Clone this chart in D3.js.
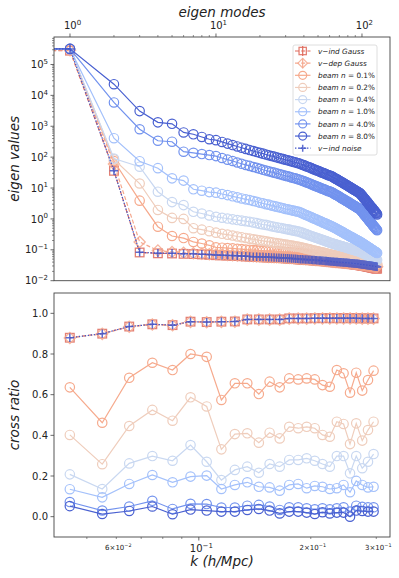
<!DOCTYPE html>
<html><head><meta charset="utf-8">
<script src="https://cdn.jsdelivr.net/npm/d3@7"></script>
<style>body{margin:0;background:#fff}svg{display:block;font-family:"DejaVu Sans",sans-serif}</style>
</head><body><svg id="c" width="399" height="578"></svg>
<script>
// ---------------- DATA ----------------
const modes = d3.range(128); // eigen mode index (0 .. 127)

const eigVindGauss = [2.9e5,2.8e5,36,0.082,0.077,0.076,0.074,0.073,0.071,0.069,
0.067,0.066,0.065,0.064,0.063,0.062,0.061,0.06,0.059,0.0585,
0.058,0.0575,0.057,0.0565,0.056,0.0555,0.055,0.0545,0.054,0.0535,
0.053,0.0525,0.052,0.0515,0.051,0.0505,0.05,0.049,0.0486,0.0483,
0.048,0.0476,0.0473,0.047,0.0466,0.0463,0.046,0.0456,0.0453,0.045,
0.0446,0.0443,0.044,0.0436,0.0433,0.043,0.0426,0.0423,0.042,0.0416,
0.0413,0.041,0.0406,0.0403,0.04,0.0398,0.0395,0.0393,0.039,0.0388,
0.0385,0.0383,0.038,0.0378,0.0375,0.0373,0.037,0.0368,0.0365,0.0363,
0.036,0.0358,0.0355,0.0353,0.035,0.0348,0.0345,0.0343,0.034,0.0338,
0.0335,0.0333,0.033,0.0328,0.0325,0.0323,0.032,0.0318,0.0315,0.0313,
0.031,0.0308,0.0305,0.0303,0.03,0.0298,0.0295,0.0293,0.029,0.0288,
0.0285,0.0283,0.028,0.0278,0.0275,0.0273,0.027,0.0268,0.0265,0.0263,
0.026,0.0258,0.0256,0.0254,0.0252,0.025,0.0248,0.0246];

const eigVdepGauss = [3.0e5,2.9e5,60,0.18,0.095,0.085,0.08,0.077,0.074,0.072,
0.07,0.069,0.068,0.067,0.066,0.065,0.064,0.063,0.062,0.061,
0.0605,0.06,0.0595,0.059,0.0585,0.058,0.0575,0.057,0.0565,0.056,
0.0555,0.055,0.0545,0.054,0.0535,0.053,0.0525,0.052,0.0515,0.051,
0.0505,0.05,0.0496,0.0492,0.0488,0.0484,0.048,0.0476,0.0472,0.0468,
0.0464,0.046,0.0456,0.0452,0.0448,0.0444,0.044,0.0436,0.0432,0.0428,
0.0424,0.042,0.0417,0.0414,0.0411,0.0408,0.0405,0.0402,0.04,0.0398,
0.0396,0.0394,0.0392,0.039,0.0388,0.0386,0.0384,0.0382,0.038,0.0378,
0.0376,0.0374,0.0372,0.037,0.0368,0.0366,0.0364,0.0362,0.036,0.0358,
0.0356,0.0354,0.0352,0.035,0.0348,0.0346,0.0344,0.0342,0.034,0.0338,
0.0336,0.0334,0.0332,0.033,0.0328,0.0326,0.0324,0.0322,0.032,0.0318,
0.0316,0.0314,0.0312,0.031,0.0308,0.0306,0.0304,0.0302,0.03,0.0298,
0.0296,0.0294,0.0292,0.029,0.0288,0.0286,0.0284,0.0282];

const eigBeam01 = [3.3e5,3.2e5,75,3.9,0.56,0.28,0.24,0.18,0.16,0.14,
0.12,0.117,0.114,0.111,0.108,0.105,0.102,0.1,0.098,0.097,
0.095,0.094,0.093,0.092,0.091,0.09,0.089,0.088,0.087,0.086,
0.085,0.084,0.083,0.082,0.081,0.08,0.079,0.078,0.077,0.076,
0.075,0.074,0.073,0.072,0.071,0.07,0.069,0.068,0.067,0.066,
0.065,0.064,0.063,0.062,0.061,0.06,0.059,0.058,0.057,0.056,
0.0555,0.055,0.054,0.053,0.0526,0.0522,0.0518,0.0514,0.051,0.0506,
0.0502,0.0498,0.0494,0.049,0.0486,0.0483,0.048,0.0476,0.0472,0.0468,
0.0465,0.0461,0.0457,0.0453,0.045,0.0446,0.0442,0.0438,0.0434,0.043,
0.0426,0.0422,0.0418,0.0414,0.041,0.0406,0.0403,0.04,0.0397,0.0394,
0.0392,0.0389,0.0386,0.0384,0.0381,0.0378,0.0376,0.0373,0.037,0.0368,
0.0365,0.0362,0.036,0.0357,0.0354,0.0352,0.0349,0.0346,0.0344,0.0341,
0.0338,0.0336,0.0333,0.033,0.0328,0.0325,0.0322,0.032];

const eigBeam02 = [3.3e5,3.2e5,85,14,1.95,1.08,1.0,0.5,0.45,0.4,
0.36,0.33,0.31,0.29,0.27,0.256,0.242,0.23,0.22,0.211,
0.202,0.195,0.188,0.182,0.176,0.17,0.165,0.16,0.156,0.151,
0.147,0.144,0.14,0.137,0.134,0.131,0.128,0.125,0.121,0.118,
0.114,0.111,0.108,0.105,0.103,0.1,0.097,0.095,0.093,0.091,
0.089,0.086,0.085,0.083,0.081,0.08,0.078,0.076,0.075,0.073,
0.072,0.071,0.069,0.068,0.067,0.066,0.065,0.064,0.063,0.062,
0.0615,0.0607,0.06,0.059,0.058,0.0575,0.057,0.056,0.0555,0.0547,
0.054,0.0536,0.0528,0.0522,0.0516,0.0512,0.0506,0.0499,0.0494,0.0489,
0.0484,0.0479,0.0473,0.0469,0.0464,0.046,0.0455,0.045,0.0447,0.0443,
0.044,0.0437,0.0433,0.043,0.0427,0.0424,0.0421,0.0418,0.0415,0.0412,
0.0409,0.0406,0.0403,0.04,0.0397,0.0394,0.0391,0.0388,0.0385,0.0382,
0.0379,0.0376,0.0373,0.037,0.0367,0.0365,0.0362,0.036];

const eigBeam04 = [3.3e5,3.2e5,90,49,7.6,3.5,2.8,1.7,1.5,1.3,
1.17,1.09,1.03,0.97,0.92,0.88,0.84,0.81,0.77,0.73,
0.69,0.66,0.64,0.61,0.58,0.56,0.54,0.52,0.51,0.49,
0.47,0.46,0.45,0.43,0.42,0.41,0.4,0.39,0.37,0.36,
0.34,0.33,0.315,0.3,0.29,0.28,0.27,0.26,0.25,0.244,
0.235,0.227,0.22,0.214,0.207,0.2,0.195,0.189,0.184,0.178,
0.173,0.169,0.164,0.16,0.156,0.153,0.149,0.147,0.143,0.14,
0.138,0.135,0.132,0.13,0.127,0.125,0.123,0.121,0.118,0.116,
0.114,0.112,0.11,0.109,0.107,0.105,0.104,0.102,0.1,0.099,
0.097,0.095,0.094,0.093,0.091,0.09,0.089,0.087,0.085,0.083,
0.081,0.08,0.077,0.076,0.074,0.073,0.071,0.07,0.068,0.067,
0.065,0.064,0.063,0.061,0.06,0.059,0.058,0.057,0.055,0.054,
0.053,0.052,0.051,0.05,0.0495,0.0485,0.048,0.047];

const eigBeam1 = [3.3e5,3.2e5,410,74,44,20.6,17.4,9.1,8.2,7.4,
7.1,6.4,5.9,5.4,5.0,4.6,4.3,4.1,3.8,3.6,
3.35,3.2,3.0,2.9,2.7,2.6,2.5,2.4,2.3,2.2,
2.1,2.05,1.98,1.91,1.85,1.79,1.74,1.7,1.6,1.52,
1.45,1.37,1.31,1.24,1.19,1.13,1.08,1.03,0.99,0.95,
0.91,0.87,0.84,0.81,0.77,0.74,0.72,0.69,0.67,0.64,
0.62,0.6,0.58,0.56,0.54,0.52,0.5,0.48,0.46,0.44,
0.43,0.41,0.4,0.38,0.37,0.36,0.34,0.33,0.32,0.31,
0.3,0.29,0.28,0.27,0.265,0.257,0.25,0.24,0.234,0.227,
0.22,0.214,0.208,0.203,0.197,0.191,0.187,0.18,0.177,0.171,
0.166,0.161,0.156,0.151,0.147,0.143,0.139,0.135,0.131,0.127,
0.124,0.12,0.117,0.114,0.11,0.107,0.105,0.102,0.099,0.096,
0.094,0.092,0.09,0.087,0.085,0.083,0.081,0.079];

const eigBeam4 = [3.3e5,3.2e5,5900,800,340,316,150,138,126,117,
108,94,83,75,67,61,56,52,48,45,
42,39,37,35,33,31.5,30,28.5,27.3,26,
24.8,24,23,22,21.2,20.6,19.7,19,18.2,17.3,
16.7,15.8,15.2,14.5,13.9,13.3,12.7,12.1,11.8,11.2,
10.9,10.6,10,9.7,9.4,9.1,8.8,8.5,8.2,7.9,
7.8,7.6,7.3,7.0,6.7,6.4,6.1,5.9,5.7,5.5,
5.2,5.0,4.8,4.6,4.5,4.3,4.1,4.0,3.8,3.7,
3.6,3.5,3.3,3.2,3.1,3.0,2.9,2.8,2.7,2.6,
2.55,2.45,2.4,2.3,2.25,2.2,2.1,2.05,1.95,1.8,
1.7,1.64,1.52,1.45,1.36,1.3,1.24,1.15,1.1,1.05,
1.0,0.94,0.88,0.85,0.79,0.76,0.73,0.7,0.66,0.61,
0.6,0.56,0.54,0.52,0.49,0.47,0.45,0.43];

const eigBeam8 = [3.3e5,3.2e5,2.3e4,3100,1340,1200,630,550,450,380,
355,311,275,246,222,202,185,170,158,147,
138,130,122,115,109,104,99,94,90,86,
82,79,76,73,70,68,65,63,60,57,
55,52,50,48,46,44,42,40,39,37,
36,35,33,32,31,30,29,28,27,26,
25.6,25,24,23,22,21,20,19.6,18.7,18,
17.3,16.6,16,15.3,14.8,14.2,13.6,13.2,12.7,12.2,
11.8,11.4,11,10.6,10.3,9.9,9.6,9.2,9.0,8.7,
8.4,8.1,7.9,7.7,7.4,7.2,7.0,6.8,6.4,6.0,
5.7,5.4,5.0,4.8,4.5,4.3,4.1,3.8,3.6,3.5,
3.3,3.1,2.9,2.8,2.6,2.5,2.4,2.3,2.2,2.0,
1.97,1.86,1.79,1.7,1.6,1.55,1.5,1.4];

const eigNoise = [3.3e5,3.2e5,36,0.083,0.078,0.077,0.075,0.074,0.072,0.07,
0.068,0.067,0.066,0.065,0.064,0.063,0.062,0.061,0.06,0.0595,
0.059,0.0585,0.058,0.0575,0.057,0.0565,0.056,0.0555,0.055,0.0545,
0.054,0.0535,0.053,0.0525,0.052,0.0515,0.051,0.05,0.0496,0.0493,
0.049,0.0486,0.0483,0.048,0.0476,0.0473,0.047,0.0466,0.0463,0.046,
0.0456,0.0453,0.045,0.0446,0.0443,0.044,0.0436,0.0433,0.043,0.0426,
0.0423,0.042,0.0416,0.0413,0.041,0.0408,0.0406,0.0404,0.0402,0.04,
0.0398,0.0396,0.0394,0.0392,0.039,0.0388,0.0386,0.0384,0.0382,0.038,
0.0378,0.0376,0.0374,0.0372,0.037,0.0368,0.0366,0.0364,0.0362,0.036,
0.0358,0.0356,0.0354,0.0352,0.035,0.0348,0.0346,0.0344,0.034,0.0338,
0.0336,0.0334,0.0332,0.033,0.0328,0.0326,0.0324,0.0322,0.032,0.0318,
0.0316,0.0314,0.0312,0.031,0.0308,0.0306,0.0304,0.0302,0.03,0.0298,
0.0296,0.0294,0.0292,0.029,0.0288,0.0286,0.0284,0.0282];

const kBins = [0.045,0.055,0.065,0.075,0.085,0.095,0.105,0.115,0.125,0.135,0.145,0.155,0.165,
0.175,0.185,0.195,0.205,0.215,0.225,0.235,0.245,0.255,0.265,0.275,0.285,0.295];

const crossVindGauss = [0.88,0.90,0.935,0.946,0.942,0.959,0.957,0.959,0.96,0.97,0.97,0.97,0.97,
0.975,0.975,0.975,0.976,0.976,0.976,0.976,0.976,0.976,0.976,0.975,0.975,0.975];
const crossVdepGauss = [0.879,0.899,0.934,0.945,0.941,0.958,0.956,0.958,0.959,0.969,0.969,0.969,0.969,
0.974,0.974,0.974,0.975,0.975,0.975,0.975,0.975,0.975,0.975,0.974,0.974,0.974];
const crossBeam01 = [0.636,0.462,0.683,0.757,0.721,0.80,0.786,0.574,0.656,0.656,0.603,0.664,0.636,
0.68,0.675,0.68,0.675,0.647,0.639,0.721,0.705,0.61,0.708,0.62,0.672,0.718];
const crossBeam02 = [0.402,0.258,0.446,0.525,0.472,0.587,0.542,0.331,0.406,0.41,0.364,0.413,0.385,
0.442,0.435,0.442,0.435,0.402,0.393,0.467,0.456,0.357,0.459,0.374,0.426,0.467];
const crossBeam04 = [0.208,0.136,0.262,0.298,0.275,0.352,0.27,0.18,0.23,0.246,0.216,0.259,0.246,
0.279,0.279,0.287,0.275,0.259,0.246,0.298,0.298,0.213,0.298,0.238,0.27,0.308];
const crossBeam1 = [0.135,0.095,0.161,0.205,0.169,0.197,0.202,0.136,0.156,0.169,0.147,0.144,0.128,
0.156,0.161,0.14,0.151,0.147,0.136,0.14,0.156,0.12,0.176,0.156,0.144,0.147];
const crossBeam4 = [0.072,0.03,0.05,0.078,0.038,0.063,0.062,0.045,0.045,0.054,0.058,0.05,0.033,
0.046,0.046,0.041,0.036,0.041,0.036,0.041,0.046,0.025,0.054,0.048,0.046,0.046];
const crossBeam8 = [0.052,0.013,0.028,0.05,0.012,0.035,0.03,0.025,0.025,0.033,0.038,0.03,0.016,
0.025,0.025,0.02,0.013,0.022,0.016,0.02,0.02,0.0,0.03,0.028,0.025,0.025];
const crossNoise = [0.88,0.90,0.935,0.946,0.942,0.959,0.957,0.959,0.96,0.97,0.97,0.97,0.97,
0.975,0.975,0.975,0.976,0.976,0.976,0.976,0.976,0.976,0.976,0.975,0.975,0.975];

const beamLabels = ["0.1%","0.2%","0.4%","1.0%","4.0%","8.0%"];
const eigYTicks = [1e-2,1e-1,1e0,1e1,1e2,1e3,1e4,1e5];
const modeTicks = [1,10,100];
const kMajorTicks = [0.1];
const kMinorLabelTicks = [0.06,0.2,0.3];
const crossTicks = [0,0.2,0.4,0.6,0.8,1.0];

// ---------------- STYLE / SERIES ----------------
const series = [
  {name:"vind", eig:eigVindGauss, cross:crossVindGauss, color:"#df6b5d", dash:"4,2.2", marker:"square"},
  {name:"vdep", eig:eigVdepGauss, cross:crossVdepGauss, color:"#f5a98f", dash:"4,2.2", marker:"diamond"},
  {name:"b0", eig:eigBeam01, cross:crossBeam01, color:"#f6aa8d", dash:null, marker:"circle"},
  {name:"b1", eig:eigBeam02, cross:crossBeam02, color:"#efcdbc", dash:null, marker:"circle"},
  {name:"b2", eig:eigBeam04, cross:crossBeam04, color:"#c9d8f1", dash:null, marker:"circle"},
  {name:"b3", eig:eigBeam1, cross:crossBeam1, color:"#a4c1fb", dash:null, marker:"circle"},
  {name:"b4", eig:eigBeam4, cross:crossBeam4, color:"#7393ee", dash:null, marker:"circle"},
  {name:"b5", eig:eigBeam8, cross:crossBeam8, color:"#4a61d1", dash:null, marker:"circle"},
  {name:"noise", eig:eigNoise, cross:crossNoise, color:"#4255c8", dash:"1.4,1.6", marker:"plus"}
];

const svg = d3.select("#c");
const P1 = {l:54, r:390, t:37, b:280.7};
const P2 = {l:54, r:390, t:293, b:537};
const xM = d3.scaleLog().domain([0.777,155.6]).range([P1.l,P1.r]);
const yE = d3.scaleLog().domain([1e-2,7.76e5]).range([P1.b,P1.t]);
const xK = d3.scaleLog().domain([0.0408,0.3266]).range([P2.l,P2.r]);
const yC = d3.scaleLinear().domain([-0.1,1.1]).range([P2.b,P2.t]);

const defs = svg.append("defs");
defs.append("clipPath").attr("id","c1").append("rect")
  .attr("x",P1.l).attr("y",P1.t).attr("width",P1.r-P1.l).attr("height",P1.b-P1.t);
defs.append("clipPath").attr("id","c2").append("rect")
  .attr("x",P2.l).attr("y",P2.t).attr("width",P2.r-P2.l).attr("height",P2.b-P2.t);

function drawMarker(g, type, x, y, color, s) {
  s = s || 1;
  if (type === "circle") {
    g.append("circle").attr("cx",x).attr("cy",y).attr("r",4.7*s)
     .attr("fill","none").attr("stroke",color).attr("stroke-width",1.2);
  } else if (type === "square") {
    const h = 4.3*s;
    g.append("rect").attr("x",x-h).attr("y",y-h).attr("width",2*h).attr("height",2*h)
     .attr("fill","none").attr("stroke",color).attr("stroke-width",1.3);
  } else if (type === "diamond") {
    const h = 5.6*s;
    g.append("path").attr("d",`M${x},${y-h}L${x+h},${y}L${x},${y+h}L${x-h},${y}Z`)
     .attr("fill","none").attr("stroke",color).attr("stroke-width",1.3);
  } else if (type === "plus") {
    const h = 4.2*s;
    g.append("path").attr("d",`M${x-h},${y}H${x+h}M${x},${y-h}V${y+h}`)
     .attr("fill","none").attr("stroke",color).attr("stroke-width",1.5);
  }
}

// ---------- TOP PANEL ----------
const gTop = svg.append("g").attr("clip-path","url(#c1)");
const mx = m => m === 0 ? xM.range()[0] - 1000 : xM(m);
series.forEach(s => {
  const pts = modes.map((m,i) => [mx(m), yE(s.eig[i])]);
  const g = gTop.append("g");
  g.append("path").attr("d", d3.line()(pts)).attr("fill","none")
    .attr("stroke", s.color).attr("stroke-width",1.2)
    .attr("stroke-dasharray", s.dash);
  const mg = g.append("g").attr("opacity", s.marker === "circle" ? 1 : 0.85);
  pts.forEach(p => { if (p[0] > P1.l - 10) drawMarker(mg, s.marker, p[0], p[1], s.color); });
});

// ---------- BOTTOM PANEL ----------
const gBot = svg.append("g").attr("clip-path","url(#c2)");
series.forEach(s => {
  const pts = kBins.map((k,i) => [xK(k), yC(s.cross[i])]);
  const g = gBot.append("g");
  g.append("path").attr("d", d3.line()(pts)).attr("fill","none")
    .attr("stroke", s.color).attr("stroke-width",1.2)
    .attr("stroke-dasharray", s.dash);
  const mg = g.append("g").attr("opacity", s.marker === "circle" ? 1 : 0.85);
  pts.forEach(p => drawMarker(mg, s.marker, p[0], p[1], s.color));
});

// ---------- FRAMES ----------
[P1,P2].forEach(P => svg.append("rect").attr("x",P.l).attr("y",P.t)
  .attr("width",P.r-P.l).attr("height",P.b-P.t).attr("fill","none")
  .attr("stroke","#444").attr("stroke-width",0.9));

const ink = "#222";
function superLabel(g, x, y, base, exp, size, anchor, prefix) {
  const t = g.append("text").attr("x",x).attr("y",y).attr("font-size",size)
    .attr("fill",ink).attr("text-anchor",anchor);
  if (prefix) t.append("tspan").text(prefix);
  t.append("tspan").text(base);
  t.append("tspan").attr("dy",-size*0.42).attr("font-size",size*0.7).text(exp);
  return t;
}
const fmtExp = v => { const e = Math.round(Math.log10(v)); return e < 0 ? "\u2212" + (-e) : String(e); };

// top panel y axis (log)
const axY1 = svg.append("g");
eigYTicks.forEach(v => {
  const y = yE(v);
  axY1.append("line").attr("x1",P1.l-3.5).attr("x2",P1.l).attr("y1",y).attr("y2",y).attr("stroke","#444").attr("stroke-width",0.8);
  superLabel(axY1, P1.l-6, y+3.6, "10", fmtExp(v), 10, "end");
});
eigYTicks.forEach(v => {
  [2,3,4,5,6,7,8,9].forEach(m => {
    const val = v*m; if (val > yE.domain()[1]) return;
    const y = yE(val);
    axY1.append("line").attr("x1",P1.l-2).attr("x2",P1.l).attr("y1",y).attr("y2",y).attr("stroke","#444").attr("stroke-width",0.6);
  });
});

// top x axis (eigen modes), drawn on top edge
const axX1 = svg.append("g");
modeTicks.forEach(v => {
  const x = xM(v);
  axX1.append("line").attr("x1",x).attr("x2",x).attr("y1",P1.t-3.5).attr("y2",P1.t).attr("stroke","#444").attr("stroke-width",0.8);
  superLabel(axX1, x+2.5, P1.t-8, "10", fmtExp(v), 10, "middle");
});
[1,10,100].forEach(v => [2,3,4,5,6,7,8,9].forEach(m => {
  const val = v*m; if (val > xM.domain()[1]) return;
  const x = xM(val);
  axX1.append("line").attr("x1",x).attr("x2",x).attr("y1",P1.t-2).attr("y2",P1.t).attr("stroke","#444").attr("stroke-width",0.6);
}));
svg.append("text").attr("x",(P1.l+P1.r)/2).attr("y",17).attr("text-anchor","middle")
  .attr("font-size",13.5).attr("font-style","italic").attr("fill",ink).text("eigen modes");
svg.append("text").attr("transform",`translate(19,${(P1.t+P1.b)/2}) rotate(-90)`)
  .attr("text-anchor","middle").attr("font-size",13.5).attr("font-style","italic").attr("fill",ink).text("eigen values");

// bottom y axis
const axY2 = svg.append("g");
crossTicks.forEach(v => {
  const y = yC(v);
  axY2.append("line").attr("x1",P2.l-3.5).attr("x2",P2.l).attr("y1",y).attr("y2",y).attr("stroke","#444").attr("stroke-width",0.8);
  axY2.append("text").attr("x",P2.l-6).attr("y",y+3.6).attr("text-anchor","end").attr("font-size",10).attr("fill",ink).text(v.toFixed(1));
});
svg.append("text").attr("transform",`translate(19,${(P2.t+P2.b)/2}) rotate(-90)`)
  .attr("text-anchor","middle").attr("font-size",13.5).attr("font-style","italic").attr("fill",ink).text("cross ratio");

// bottom x axis
const axX2 = svg.append("g");
kMajorTicks.forEach(v => {
  const x = xK(v);
  axX2.append("line").attr("x1",x).attr("x2",x).attr("y1",P2.b).attr("y2",P2.b+3.5).attr("stroke","#444").attr("stroke-width",0.8);
  superLabel(axX2, x+2.5, P2.b+15, "10", fmtExp(v), 10, "middle");
});
[0.05,0.06,0.07,0.08,0.09,0.2,0.3].forEach(v => {
  const x = xK(v);
  axX2.append("line").attr("x1",x).attr("x2",x).attr("y1",P2.b).attr("y2",P2.b+2).attr("stroke","#444").attr("stroke-width",0.6);
});
kMinorLabelTicks.forEach(v => {
  const x = xK(v);
  const e = Math.floor(Math.log10(v));
  const m = Math.round(v / Math.pow(10,e));
  superLabel(axX2, x+2, P2.b+12.5, "10", "\u2212" + (-e), 7, "middle", m + "\u00d7");
});
const kl = svg.append("text").attr("x",(P2.l+P2.r)/2).attr("y",566).attr("text-anchor","middle")
  .attr("font-size",13.5).attr("font-style","italic").attr("fill",ink);
kl.text("k (h/Mpc)");

// ---------- LEGEND ----------
const L = {x:293, y:45, w:84, h:110};
const lg = svg.append("g");
lg.append("rect").attr("x",L.x).attr("y",L.y).attr("width",L.w).attr("height",L.h).attr("rx",2)
  .attr("fill","#fff").attr("fill-opacity",0.85).attr("stroke","#d6d6d6").attr("stroke-width",0.8);
const legendTexts = [
  [["v","i"],["\u2212",""],["ind Gauss","i"]],
  [["v","i"],["\u2212",""],["dep Gauss","i"]]
].concat(beamLabels.map(b => [["beam n","i"],[" = " + b,""]]))
 .concat([[["v","i"],["\u2212",""],["ind noise","i"]]]);
series.forEach((s,i) => {
  const y = 51 + i*12.15;
  const g = lg.append("g");
  g.append("line").attr("x1",295).attr("x2",310.5).attr("y1",y).attr("y2",y)
    .attr("stroke",s.color).attr("stroke-width",1.2).attr("stroke-dasharray",s.dash);
  if (s.marker === "square" || s.marker === "diamond")
    g.append("line").attr("x1",302.7).attr("x2",302.7).attr("y1",y-5).attr("y2",y+5).attr("stroke",s.color).attr("stroke-width",1.2);
  const mg = g.append("g").attr("opacity", s.marker === "circle" ? 1 : 0.85);
  drawMarker(mg, s.marker, 302.7, y, s.color, 0.85);
  const t = g.append("text").attr("x",318).attr("y",y+2.6).attr("font-size",7.3).attr("fill",ink);
  legendTexts[i].forEach(([str,st]) => t.append("tspan").attr("font-style", st==="i"?"italic":"normal").text(str));
});
</script></body></html>
